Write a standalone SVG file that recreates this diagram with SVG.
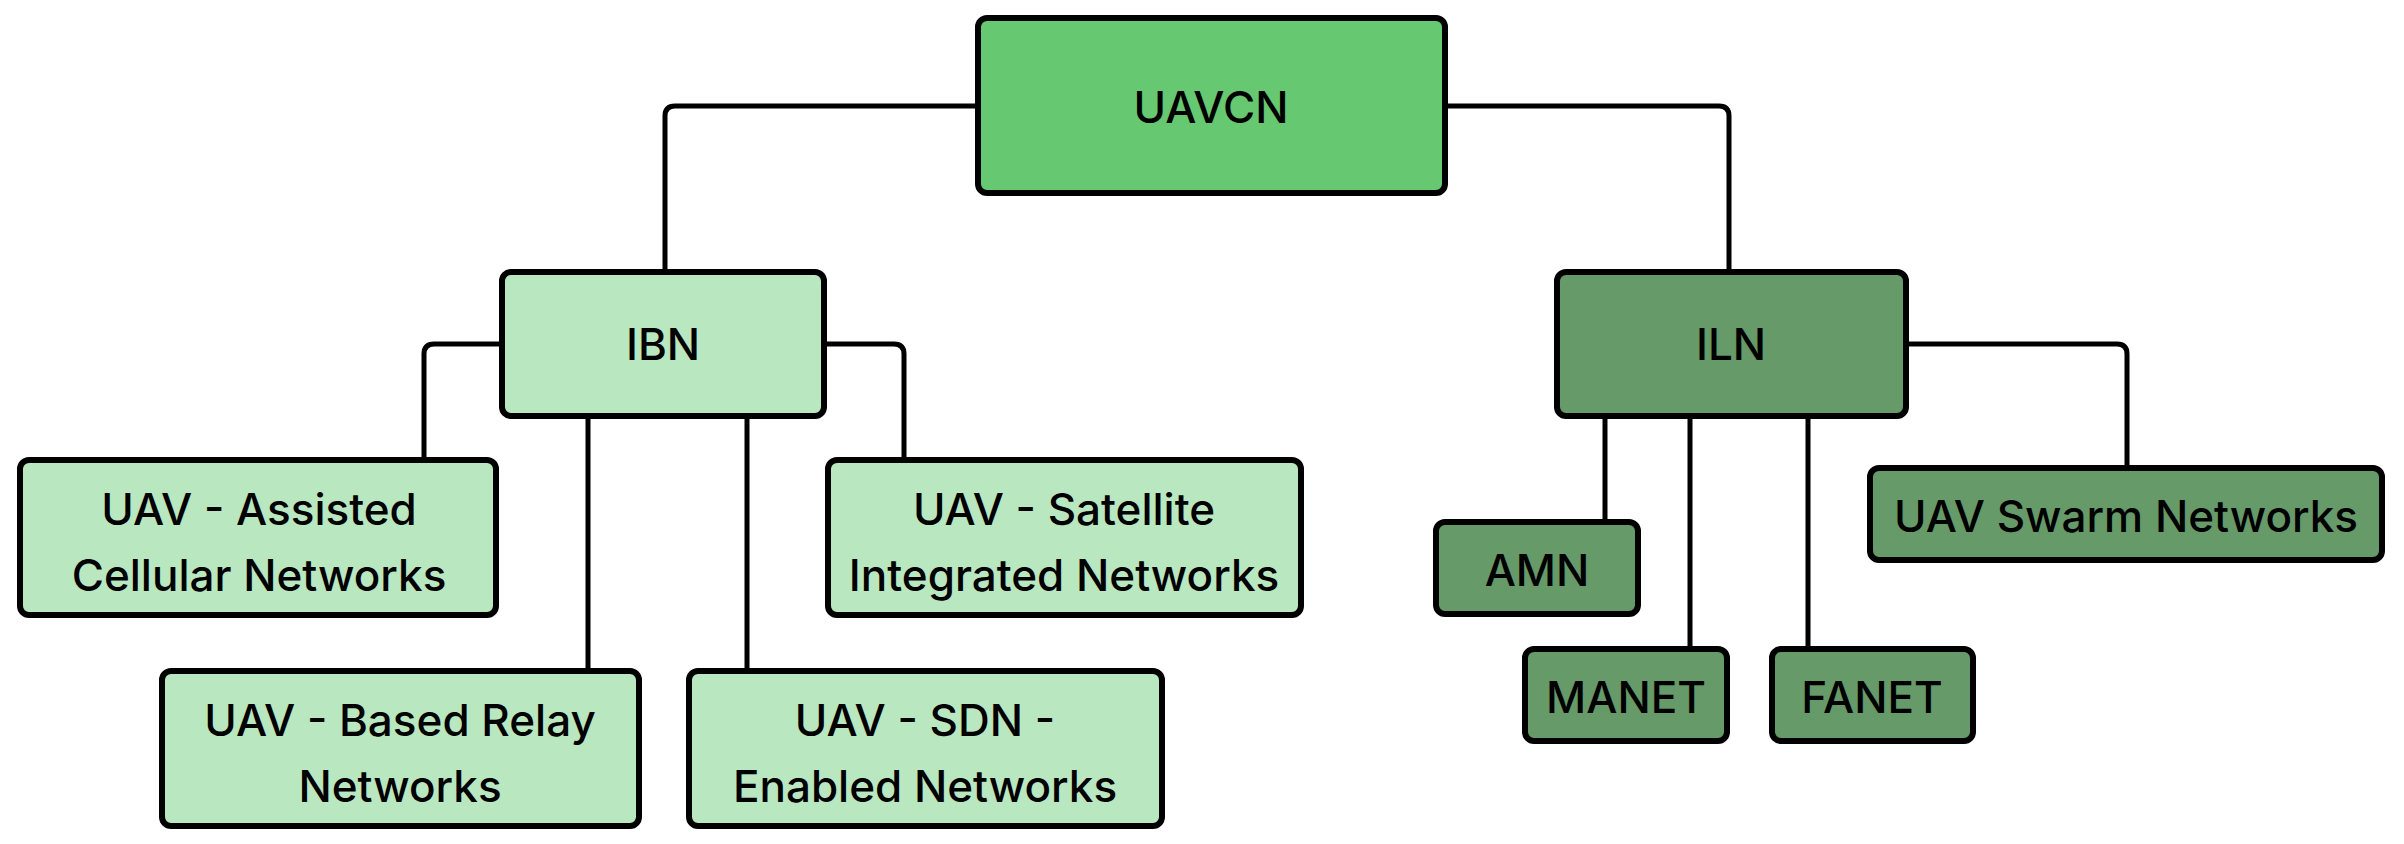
<svg xmlns="http://www.w3.org/2000/svg" width="2404" height="844" viewBox="0 0 2404 844">
<style>
.box{stroke:#000;stroke-width:6}
.c0{fill:#66C870}
.c1{fill:#B9E7C0}
.c2{fill:#669A69}
.lbl{font-family:Inter,"Liberation Sans",sans-serif;font-size:44px;font-weight:500;fill:#000;text-anchor:middle}
.conn{fill:none;stroke:#000;stroke-width:5;stroke-linejoin:round}
</style>
<rect width="2404" height="844" fill="#fff"/>
<g id="connectors" class="conn">
<path d="M978,106 H675 Q665,106 665,116 V272"/>
<path d="M1445,106 H1719 Q1729,106 1729,116 V272"/>
<path d="M502,344 H434 Q424,344 424,354 V460"/>
<path d="M824,344 H894 Q904,344 904,354 V460"/>
<path d="M588,416 V671"/>
<path d="M747,416 V671"/>
<path d="M1906,344 H2117 Q2127,344 2127,354 V468"/>
<path d="M1605,416 V522"/>
<path d="M1690,416 V649"/>
<path d="M1808,416 V649"/>
</g>
<g id="UAVCN"><rect class="box c0" x="978" y="18" width="467" height="175" rx="9"/><text class="lbl" x="1211" y="123">UAVCN</text></g>
<g id="IBN"><rect class="box c1" x="502" y="272" width="322" height="144" rx="9"/><text class="lbl" x="663" y="360">IBN</text></g>
<g id="ILN"><rect class="box c2" x="1557" y="272" width="349" height="144" rx="9"/><text class="lbl" x="1731" y="360">ILN</text></g>
<g id="assisted"><rect class="box c1" x="20" y="460" width="476" height="155" rx="9"/><text class="lbl" x="259" y="525">UAV - Assisted</text><text class="lbl" x="259" y="591">Cellular Networks</text></g>
<g id="satellite"><rect class="box c1" x="828" y="460" width="473" height="155" rx="9"/><text class="lbl" x="1064" y="525">UAV - Satellite</text><text class="lbl" x="1064" y="591">Integrated Networks</text></g>
<g id="relay"><rect class="box c1" x="162" y="671" width="477" height="155" rx="9"/><text class="lbl" x="400" y="736">UAV - Based Relay</text><text class="lbl" x="400" y="802">Networks</text></g>
<g id="sdn"><rect class="box c1" x="689" y="671" width="473" height="155" rx="9"/><text class="lbl" x="925" y="736">UAV - SDN -</text><text class="lbl" x="925" y="802">Enabled Networks</text></g>
<g id="swarm"><rect class="box c2" x="1870" y="468" width="512" height="92" rx="9"/><text class="lbl" x="2126" y="532">UAV Swarm Networks</text></g>
<g id="AMN"><rect class="box c2" x="1436" y="522" width="202" height="92" rx="9"/><text class="lbl" x="1537" y="586">AMN</text></g>
<g id="MANET"><rect class="box c2" x="1525" y="649" width="202" height="92" rx="9"/><text class="lbl" x="1626" y="713">MANET</text></g>
<g id="FANET"><rect class="box c2" x="1772" y="649" width="201" height="92" rx="9"/><text class="lbl" x="1872" y="713">FANET</text></g>
</svg>
